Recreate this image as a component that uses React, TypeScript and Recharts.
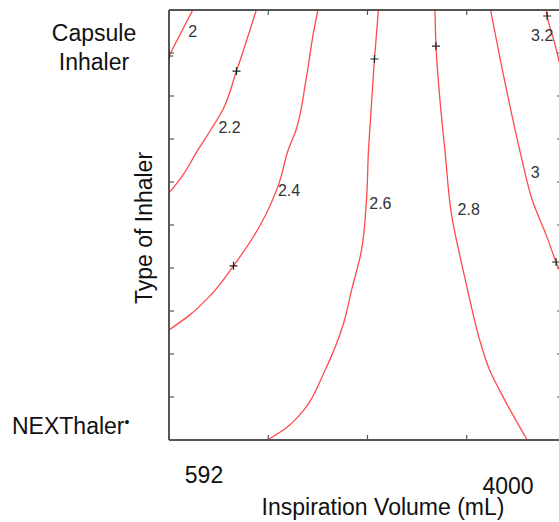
import { ComposedChart, Line, Scatter, XAxis, YAxis } from 'recharts'

// x: inspiration volume grid (0..4), y: inhaler type grid (0 = NEXThaler, 10 = capsule)
const xTicks = [0, 1, 2, 3, 4]
const yTicks = [0, 1, 2, 3, 4, 5, 6, 7, 8, 9, 10]

const level20 = [
  { x: 0, y: 8.93 }, { x: 0.12, y: 9.47 }, { x: 0.24, y: 10 },
]
const level22 = [
  { x: 0.88, y: 10 }, { x: 0.8, y: 9.42 }, { x: 0.68, y: 8.58 }, { x: 0.54, y: 7.67 },
  { x: 0.42, y: 7.21 }, { x: 0.29, y: 6.74 }, { x: 0.14, y: 6.16 }, { x: 0, y: 5.74 },
]
const level24 = [
  { x: 1.5, y: 10 }, { x: 1.46, y: 9.53 }, { x: 1.38, y: 8.37 }, { x: 1.28, y: 7.21 },
  { x: 1.2, y: 6.74 }, { x: 1.11, y: 5.98 }, { x: 0.92, y: 5.0 }, { x: 0.65, y: 4.05 },
  { x: 0.42, y: 3.37 }, { x: 0.21, y: 2.91 }, { x: 0, y: 2.56 },
]
const level26 = [
  { x: 2.11, y: 10 }, { x: 2.07, y: 8.86 }, { x: 2.03, y: 7.44 }, { x: 2.01, y: 6.74 },
  { x: 1.99, y: 5.58 }, { x: 1.94, y: 4.42 }, { x: 1.84, y: 3.49 }, { x: 1.76, y: 2.72 },
  { x: 1.56, y: 1.56 }, { x: 1.36, y: 0.7 }, { x: 1.18, y: 0.28 }, { x: 0.99, y: 0 },
]
const level28 = [
  { x: 2.68, y: 10 }, { x: 2.69, y: 9.16 }, { x: 2.73, y: 7.91 }, { x: 2.78, y: 6.74 },
  { x: 2.85, y: 5.19 }, { x: 2.94, y: 4.19 }, { x: 3.02, y: 3.37 }, { x: 3.13, y: 2.33 },
  { x: 3.23, y: 1.63 }, { x: 3.33, y: 1.16 }, { x: 3.61, y: 0 },
]
const level30 = [
  { x: 3.24, y: 10 }, { x: 3.39, y: 8.26 }, { x: 3.55, y: 6.58 }, { x: 3.66, y: 5.58 },
  { x: 3.8, y: 4.77 }, { x: 3.9, y: 4.14 }, { x: 4.0, y: 3.6 },
]
const level32 = [
  { x: 3.8, y: 10 }, { x: 3.81, y: 9.86 }, { x: 3.89, y: 9.19 }, { x: 4.0, y: 8.09 },
]

const markers = [
  { x: 0, y: 8.93 }, { x: 0.68, y: 8.58 }, { x: 2.07, y: 8.86 }, { x: 2.69, y: 9.16 },
  { x: 3.81, y: 9.86 }, { x: 0.65, y: 4.05 }, { x: 3.9, y: 4.14 },
]

const levelLabels = [
  { x: 0.24, y: 9.51, text: '2' },
  { x: 0.61, y: 7.26, text: '2.2' },
  { x: 1.21, y: 5.81, text: '2.4' },
  { x: 2.13, y: 5.49, text: '2.6' },
  { x: 3.02, y: 5.37, text: '2.8' },
  { x: 3.69, y: 6.21, text: '3' },
  { x: 3.76, y: 9.4, text: '3.2' },
]

const contours = [level20, level22, level24, level26, level28, level30, level32]

const axisColor = '#555'
const font = '"Liberation Sans", Arial, sans-serif'

function Plus(props: any) {
  const { cx, cy } = props
  return <path d={`M${cx - 4},${cy}h8M${cx},${cy - 4}v8`} stroke="#222" strokeWidth={1.2} fill="none" />
}

function LevelText(props: any) {
  const { cx, cy, payload } = props
  return (
    <text x={cx} y={cy} textAnchor="middle" dominantBaseline="central" fontSize={16} fill="#333" fontFamily={font}>
      {payload.text}
    </text>
  )
}

const axisCommon = {
  type: 'number' as const,
  mirror: true,
  allowDataOverflow: true,
  tickSize: 5,
  axisLine: { stroke: axisColor, strokeWidth: 2 },
  tickLine: { stroke: axisColor, strokeWidth: 1.2 },
  tickFormatter: () => '',
}

export default function App() {
  return (
    <div style={{ position: 'absolute', left: 0, top: 0, width: 559, height: 522, overflow: 'hidden', background: '#fff' }}>
      <ComposedChart width={603} height={522} margin={{ top: 10, right: 37, bottom: 82, left: 169 }}>
        <XAxis {...axisCommon} xAxisId={0} dataKey="x" domain={[0, 4]} ticks={xTicks} height={1} />
        <XAxis {...axisCommon} xAxisId="top" orientation="top" dataKey="x" domain={[0, 4]} ticks={xTicks} height={1} />
        <YAxis {...axisCommon} yAxisId={0} dataKey="y" domain={[0, 10]} ticks={yTicks} width={1} />
        <YAxis
          {...axisCommon}
          yAxisId="right"
          orientation="right"
          dataKey="y"
          domain={[0, 10]}
          ticks={yTicks}
          width={1}
          tickSize={9}
          axisLine={false}
        />
        {contours.map((c, i) => (
          <Line
            key={i}
            data={c}
            dataKey="y"
            type="monotoneY"
            stroke="#ff4a4a"
            strokeWidth={1.3}
            dot={false}
            activeDot={false}
            isAnimationActive={false}
          />
        ))}
        <Scatter data={markers} shape={Plus} isAnimationActive={false} />
        <Scatter data={levelLabels} shape={LevelText} isAnimationActive={false} />
      </ComposedChart>
      <svg width={559} height={522} style={{ position: 'absolute', left: 0, top: 0, pointerEvents: 'none' }} fontFamily={font} fontSize={23} fill="#111">
        <text x={94} y={41} textAnchor="middle">Capsule</text>
        <text x={94} y={70} textAnchor="middle">Inhaler</text>
        <text x={12} y={434}>
          NEXThaler<tspan fontSize={14} dy={-7}>•</tspan>
        </text>
        <text transform="translate(152,228) rotate(-90)" textAnchor="middle">Type of Inhaler</text>
        <text x={204} y={483} textAnchor="middle">592</text>
        <text x={508} y={494} textAnchor="middle">4000</text>
        <text x={383} y={515} textAnchor="middle">Inspiration Volume (mL)</text>
      </svg>
    </div>
  )
}
